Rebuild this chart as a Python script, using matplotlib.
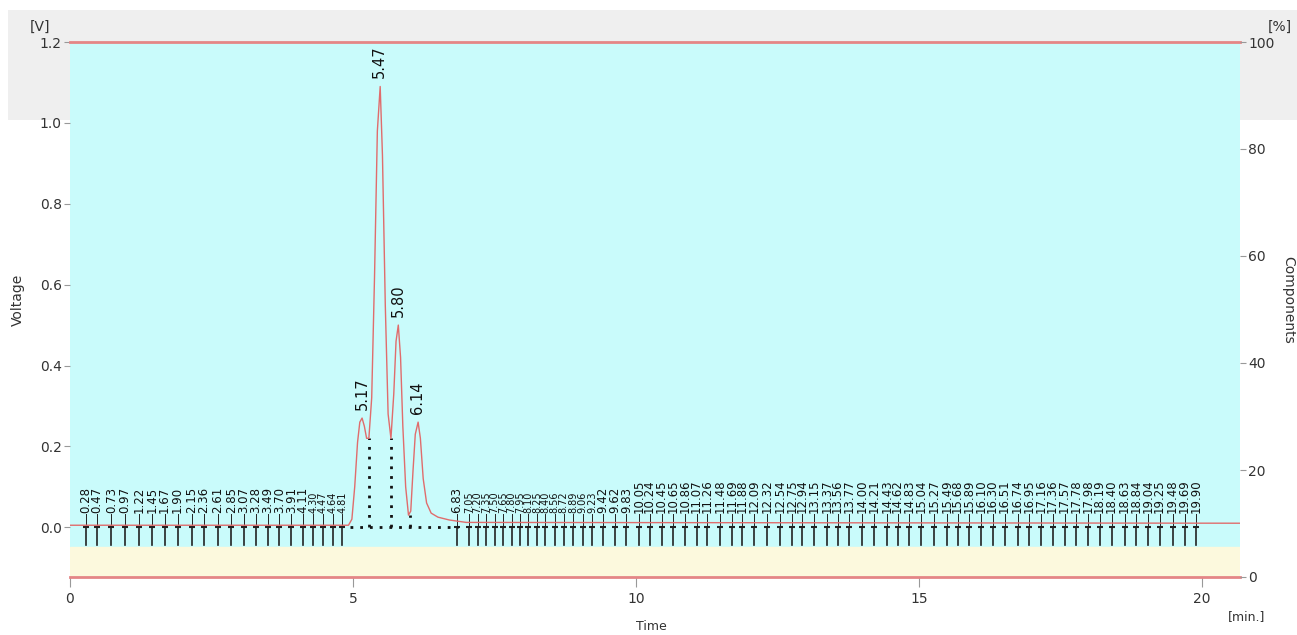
import numpy as np
import matplotlib
matplotlib.use('Agg')
import matplotlib.pyplot as plt
from matplotlib.patches import Rectangle

# chromatogram trace (time [min], voltage [V])
trace_t = [0.0, 4.92, 4.98, 5.03, 5.08, 5.12, 5.16, 5.20, 5.24, 5.28, 5.33, 5.38,
           5.43, 5.48, 5.52, 5.57, 5.62, 5.67, 5.72, 5.76, 5.80, 5.84, 5.88, 5.93,
           5.98, 6.02, 6.06, 6.10, 6.15, 6.19, 6.24, 6.30, 6.38, 6.50, 6.70, 7.00, 20.67]
trace_v = [0.005, 0.005, 0.02, 0.10, 0.21, 0.26, 0.27, 0.25, 0.22, 0.22, 0.32, 0.62,
           0.98, 1.09, 0.92, 0.55, 0.28, 0.22, 0.33, 0.46, 0.50, 0.42, 0.25, 0.10,
           0.03, 0.04, 0.14, 0.23, 0.26, 0.22, 0.12, 0.06, 0.035, 0.025, 0.018, 0.012, 0.01]

# main peaks
peak_t = [5.17, 5.47, 5.80, 6.14]
peak_v = [0.27, 1.09, 0.50, 0.26]
peak_lbl = ['5.17', '5.47', '5.80', '6.14']

# valley drop lines
drop_t = [5.28, 5.67, 6.00]
drop_v = [0.22, 0.22, 0.03]

# small noise peaks
small_t = [0.28, 0.47, 0.73, 0.97, 1.22, 1.45, 1.67, 1.90, 2.15, 2.36, 2.61, 2.85,
           3.07, 3.28, 3.49, 3.70, 3.91, 4.11, 4.30, 4.47, 4.64, 4.81,
           6.83, 7.05, 7.20, 7.35, 7.50, 7.65, 7.80, 7.95, 8.10, 8.25, 8.40, 8.56,
           8.72, 8.89, 9.06, 9.23, 9.42, 9.62, 9.83, 10.05, 10.24, 10.45, 10.65, 10.86,
           11.07, 11.26, 11.48, 11.69, 11.88, 12.09, 12.32, 12.54, 12.75, 12.94, 13.15,
           13.37, 13.56, 13.77, 14.00, 14.21, 14.43, 14.62, 14.83, 15.04, 15.27, 15.49,
           15.68, 15.89, 16.10, 16.30, 16.51, 16.74, 16.95, 17.16, 17.36, 17.57, 17.78,
           17.98, 18.19, 18.40, 18.63, 18.84, 19.04, 19.25, 19.48, 19.69, 19.90]

volt_ticks = [0.0, 0.2, 0.4, 0.6, 0.8, 1.0, 1.2]
comp_ticks = [0, 20, 40, 60, 80, 100]
time_ticks = [0, 5, 10, 15, 20]

W, H = 1297, 635
fig = plt.figure(figsize=(W / 100, H / 100), dpi=100)
fig.patch.set_facecolor('white')
# grey header band, behind the axes
fig.patches.append(Rectangle((8 / W, 1 - 120 / H), 1 - 8 / W, 110 / H,
                             transform=fig.transFigure, facecolor='#efefef',
                             edgecolor='none', zorder=-5))

ax = fig.add_axes([70 / W, 1 - 577 / H, 1170 / W, 535 / H])
ax.set_xlim(0, 20.67)
ax.set_ylim(-0.123, 1.2)
ax.set_facecolor('#c9fbfb')
ax.axhspan(-0.123, -0.05, color='#fcf9dd', zorder=0)

red = '#e48686'
for s in ['left', 'right', 'top']:
    ax.spines[s].set_visible(False)
ax.spines['bottom'].set_color(red)
ax.spines['bottom'].set_linewidth(2)
ax.axhline(1.2, color=red, lw=2, clip_on=False, zorder=5)

fs = 10
ax.set_xticks(time_ticks)
ax.set_yticks(volt_ticks)
ax.set_yticklabels(['%.1f' % v for v in volt_ticks])
ax.tick_params(axis='both', labelsize=fs, colors='#333333', length=4, pad=2)
ax.tick_params(axis='x', color='#999999', length=7, pad=4)
ax.tick_params(axis='y', color='#999999')

# stems + labels for small peaks (crowded labels get a smaller font)
gaps = np.diff(small_t)
for i, t in enumerate(small_t):
    left = gaps[i - 1] if i > 0 else 1.0
    right = gaps[i] if i < len(gaps) else 1.0
    lfs = 8.5 if min(left, right) > 0.18 else 7
    ax.plot([t, t], [-0.044, 0.0], color='#222222', lw=1.2, zorder=3)
    ax.plot([t, t], [0.0, 0.033], color='#222222', lw=0.7, zorder=3)
    ax.plot([t], [0.0], marker='_', ms=5, mew=1.5, color='#222222', zorder=3)
    ax.text(t, 0.036, '%.2f' % t, rotation=90, ha='center', va='bottom',
            fontsize=lfs, color='#111111', zorder=4)

# dotted baseline under the main peaks and valley drop lines
ax.plot([4.95, 6.85], [0.0, 0.0], ls=(0, (1, 2.5)), color='#111111', lw=2, zorder=3)
for t, v in zip(drop_t, drop_v):
    ax.plot([t, t], [0.0, v], ls=(0, (1, 2.5)), color='#111111', lw=2, zorder=3)

# signal
ax.plot(trace_t, trace_v, color='#e06c6c', lw=1.0, zorder=4)

for t, v, s in zip(peak_t, peak_v, peak_lbl):
    ax.text(t, v + 0.02, s, rotation=90, ha='center', va='bottom',
            fontsize=10.5, color='#111111', zorder=6)

ax2 = ax.twinx()
ax2.set_ylim(0, 100)
ax2.set_yticks(comp_ticks)
for s in ['left', 'right', 'top', 'bottom']:
    ax2.spines[s].set_visible(False)
ax2.tick_params(axis='y', labelsize=fs, colors='#333333', color='#999999', length=4, pad=2)

fig.text(18 / W, 1 - 300 / H, 'Voltage', rotation=90, ha='center', va='center',
         fontsize=fs, color='#333333')
fig.text(1288 / W, 1 - 300 / H, 'Components', rotation=270, ha='center', va='center',
         fontsize=fs, color='#333333')
fig.text(651 / W, 1 - 627 / H, 'Time', ha='center', va='center', fontsize=9, color='#333333')
fig.text(1247 / W, 1 - 617 / H, '[min.]', ha='center', va='center', fontsize=9, color='#333333')
fig.text(40 / W, 1 - 27 / H, '[V]', ha='center', va='center', fontsize=fs, color='#333333')
fig.text(1280 / W, 1 - 27 / H, '[%]', ha='center', va='center', fontsize=fs, color='#333333')

fig.savefig('out.png', dpi=100)
